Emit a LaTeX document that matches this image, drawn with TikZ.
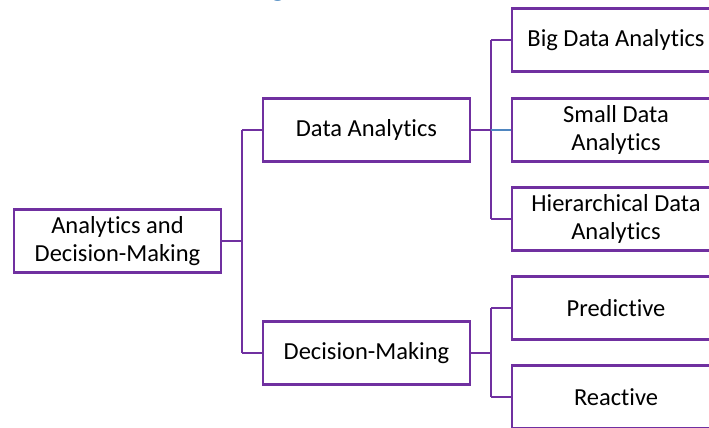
\documentclass[tikz,border=0pt]{standalone}
\usepackage{fontspec}
\setmainfont[Ligatures={NoCommon}]{Carlito}
\definecolor{purp}{HTML}{7030A0}
\definecolor{lnblue}{HTML}{4F86C0}
\definecolor{ttlblue}{HTML}{2E75B6}
\begin{document}
\begin{tikzpicture}[x=1pt,y=-1pt,
  box/.style={draw=purp,line width=2.6pt,fill=white,align=center,font=\fontsize{24.5}{27.5}\selectfont,inner sep=0pt},
  lvl/.style={box,minimum width=207pt,minimum height=63pt},
  leaf/.style={box,minimum width=208pt,minimum height=63pt},
  conn/.style={draw=purp,line width=2.6pt}]
\useasboundingbox (0,0) rectangle (709,428);
\begin{scope}
\clip (0,0) rectangle (709,428);
\node[text=ttlblue,font=\bfseries\fontsize{28}{30}\selectfont,anchor=south] (ttl) at (278,5) {g};
\fill[white] (0,-40) rectangle (709,0);
\coordinate (j1) at (242,241);
\coordinate (j2) at (491,130);
\coordinate (j3) at (491,353);
\coordinate (j1a) at (242,130);
\coordinate (j1b) at (242,353);
\coordinate (j2a) at (491,40);
\coordinate (j2c) at (491,219);
\coordinate (j3a) at (491,308);
\coordinate (j3b) at (491,397);
\node[lvl] (root) at (117.5,241) {Analytics and\\Decision-Making};
\node[lvl] (da) at (366.5,130) {Data Analytics};
\node[lvl] (dm) at (366.5,353) {Decision-Making};
\node[leaf] (big) at (616,40) {Big Data Analytics};
\node[leaf] (small) at (616,130) {Small Data\\Analytics};
\node[leaf] (hier) at (616,219) {Hierarchical Data\\Analytics};
\node[leaf] (pred) at (616,308) {Predictive};
\node[leaf] (reac) at (616,397) {Reactive};
\draw[conn] (root.east) -- (j1);
\draw[conn] (j1a) -- (j1b);
\draw[conn] (j1a) -- (da.west);
\draw[conn] (j1b) -- (dm.west);
\draw[conn] (da.east) -- (j2);
\draw[conn] (j2a) -- (j2c);
\draw[conn] (j2a) -- (big.west);
\draw[draw=lnblue,line width=2.6pt] (j2) -- (small.west);
\draw[conn] (j2c) -- (hier.west);
\draw[conn] (dm.east) -- (j3);
\draw[conn] (j3a) -- (j3b);
\draw[conn] (j3a) -- (pred.west);
\draw[conn] (j3b) -- (reac.west);
\end{scope}
\end{tikzpicture}
\end{document}
